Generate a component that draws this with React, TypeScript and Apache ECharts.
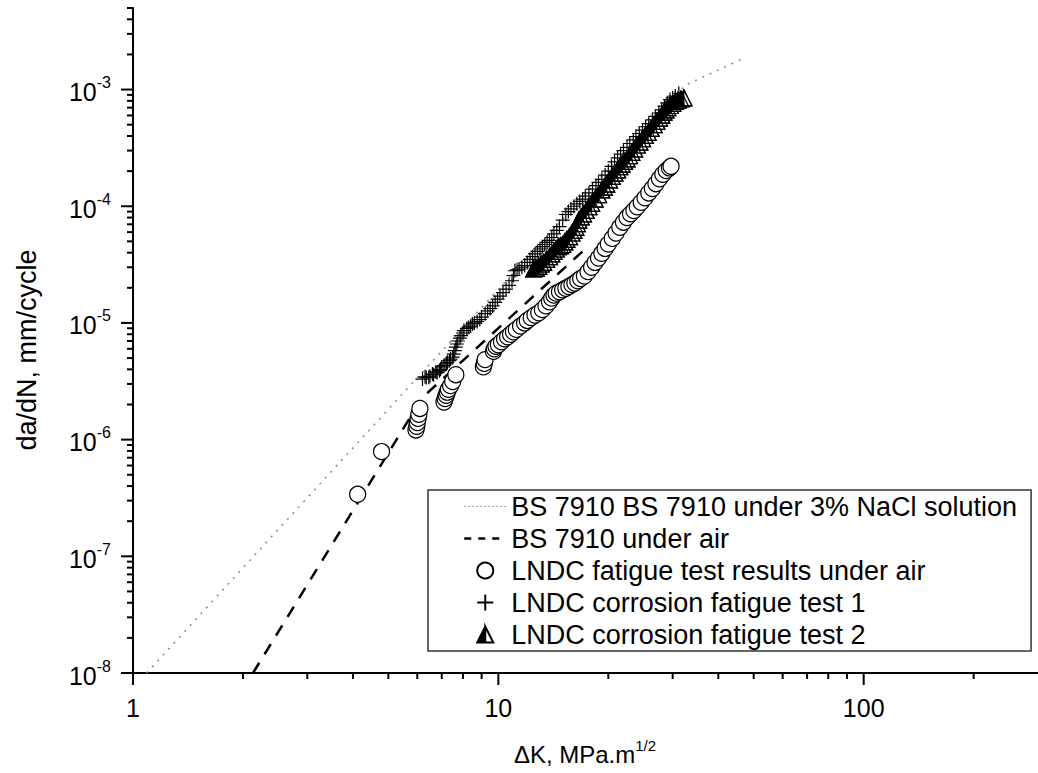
import React, { useEffect, useRef } from 'react';
import * as echarts from 'echarts';

const FONT = '"Liberation Sans", Arial, Helvetica, sans-serif';

// axis extents
const X_MIN = 1;
const X_MAX = 300;
const Y_MIN = 1e-8;
const Y_MAX = 5e-3;

// tick values
const xMajorTicks = [1, 10, 100];
const xMinorTicks = [2, 3, 4, 5, 6, 7, 8, 9, 20, 30, 40, 50, 60, 70, 80, 90, 200];
const yMajorTicks = [1e-8, 1e-7, 1e-6, 1e-5, 1e-4, 1e-3];
const yMinorMultipliers = [2, 3, 4, 5, 6, 7, 8, 9];
const yMinorDecades = [1e-8, 1e-7, 1e-6, 1e-5, 1e-4];
const yMinorTop = [2e-3, 3e-3, 4e-3, 5e-3];

// series names
const NAME_NACL = 'BS 7910 BS 7910 under 3% NaCl solution';
const NAME_AIR = 'BS 7910 under air';
const NAME_RES = 'LNDC fatigue test results under air';
const NAME_C1 = 'LNDC corrosion fatigue test 1';
const NAME_C2 = 'LNDC corrosion fatigue test 2';

// BS 7910 law in 3% NaCl (vertices)
const naclLine = [
  [1.09, 1e-8],
  [32.5, 1.09e-3],
  [46, 1.8e-3],
];

// BS 7910 law in air (vertices)
const airLine = [
  [2.13, 1e-8],
  [6.2, 2.3e-6],
  [17.7, 4.6e-5],
];

// LNDC fatigue results in air (open circles)
const airResults = [
  [4.12, 3.4e-7], [4.79, 7.9e-7],
  [5.95, 1.21e-6], [5.98, 1.3e-6], [6.0, 1.4e-6], [6.03, 1.52e-6], [6.06, 1.65e-6], [6.1, 1.85e-6],
  [7.1, 2.1e-6], [7.15, 2.25e-6], [7.2, 2.4e-6], [7.25, 2.55e-6], [7.3, 2.7e-6], [7.4, 2.9e-6],
  [7.5, 3.15e-6], [7.65, 3.6e-6],
  [9.1, 4.2e-6], [9.15, 4.5e-6], [9.2, 4.85e-6],
  [9.7, 5.7e-6], [9.75, 6.0e-6], [9.85, 6.3e-6], [10.0, 6.5e-6], [10.2, 6.9e-6], [10.4, 7.3e-6],
  [10.6, 7.6e-6], [10.8, 8.0e-6], [11.0, 8.4e-6], [11.2, 8.8e-6], [11.5, 9.4e-6], [11.8, 1.0e-5],
  [12.0, 1.05e-5], [12.3, 1.11e-5], [12.6, 1.17e-5], [12.9, 1.22e-5], [13.2, 1.3e-5], [13.5, 1.4e-5],
  [13.8, 1.52e-5], [14.0, 1.63e-5], [14.2, 1.73e-5], [14.4, 1.8e-5], [14.7, 1.85e-5], [15.0, 1.92e-5],
  [15.3, 1.98e-5], [15.6, 2.05e-5], [15.9, 2.13e-5], [16.2, 2.2e-5], [16.5, 2.3e-5], [16.8, 2.4e-5],
  [17.2, 2.52e-5], [17.6, 2.75e-5], [18.0, 3.0e-5], [18.4, 3.3e-5], [18.8, 3.6e-5], [19.2, 3.95e-5],
  [19.6, 4.35e-5], [20.0, 4.75e-5], [20.5, 5.3e-5], [21.0, 5.9e-5], [21.5, 6.6e-5], [22.0, 7.3e-5],
  [22.5, 8.0e-5], [23.0, 8.6e-5], [23.5, 9.2e-5], [24.0, 9.9e-5], [24.6, 1.08e-4], [25.2, 1.18e-4],
  [25.8, 1.3e-4], [26.4, 1.42e-4], [27.0, 1.56e-4], [27.6, 1.72e-4], [28.2, 1.88e-4], [28.8, 2.02e-4],
  [29.4, 2.13e-4], [29.7, 2.2e-4],
];

// LNDC corrosion fatigue test 1 (plus marks)
const corrosion1 = [
  [6.2, 3.3e-6], [6.3, 3.45e-6], [6.35, 3.4e-6], [6.45, 3.42e-6], [6.5, 3.5e-6], [6.6, 3.65e-6],
  [6.65, 3.6e-6], [6.75, 3.8e-6], [6.8, 3.75e-6], [6.9, 3.9e-6], [6.95, 4.0e-6], [7.0, 4.2e-6],
  [7.1, 4.3e-6], [7.2, 4.45e-6], [7.25, 4.6e-6], [7.35, 4.75e-6], [7.4, 4.9e-6], [7.5, 5.1e-6],
  [7.55, 5.4e-6], [7.6, 5.8e-6], [7.65, 6.2e-6], [7.7, 6.6e-6], [7.75, 7.0e-6], [7.85, 7.4e-6],
  [7.9, 7.8e-6], [8.0, 8.2e-6], [8.05, 8.6e-6], [8.2, 9.0e-6], [8.3, 9.2e-6], [8.4, 9.4e-6],
  [8.5, 9.8e-6], [8.6, 1.0e-5], [8.75, 1.03e-5], [8.9, 1.07e-5], [9.0, 1.12e-5], [9.2, 1.2e-5],
  [9.35, 1.27e-5], [9.5, 1.33e-5], [9.65, 1.4e-5], [9.8, 1.5e-5], [9.95, 1.6e-5], [10.1, 1.7e-5],
  [10.3, 1.82e-5], [10.5, 1.95e-5], [10.7, 2.1e-5], [10.9, 2.3e-5], [11.0, 2.55e-5], [11.1, 2.8e-5],
  [11.25, 2.85e-5], [11.4, 2.9e-5], [11.6, 3.0e-5], [11.8, 3.1e-5], [12.0, 3.3e-5], [12.2, 3.5e-5],
  [12.4, 3.7e-5], [12.6, 3.9e-5], [12.8, 4.1e-5], [13.0, 4.3e-5], [13.2, 4.5e-5], [13.4, 4.7e-5],
  [13.6, 4.9e-5], [13.8, 5.1e-5], [14.0, 5.4e-5], [14.2, 5.8e-5], [14.45, 6.2e-5], [14.7, 6.7e-5],
  [15.0, 7.6e-5], [15.3, 8.5e-5], [15.55, 9.0e-5], [15.8, 9.5e-5], [16.1, 1.0e-4], [16.4, 1.05e-4],
  [16.7, 1.1e-4], [17.0, 1.15e-4], [17.3, 1.22e-4], [17.7, 1.3e-4], [18.1, 1.4e-4], [18.5, 1.5e-4],
  [18.8, 1.6e-4], [19.2, 1.7e-4], [19.6, 1.85e-4], [20.0, 2.0e-4], [20.4, 2.2e-4], [20.8, 2.4e-4],
  [21.2, 2.6e-4], [21.6, 2.8e-4], [22.0, 3.0e-4], [22.5, 3.2e-4], [22.9, 3.45e-4], [23.4, 3.7e-4],
  [23.8, 3.95e-4], [24.3, 4.2e-4], [24.8, 4.5e-4], [25.3, 4.8e-4], [25.8, 5.1e-4], [26.4, 5.5e-4],
  [26.9, 5.9e-4], [27.5, 6.3e-4], [28.0, 6.7e-4], [28.5, 7.2e-4], [29.0, 7.7e-4], [29.5, 8.2e-4],
  [30.0, 8.5e-4], [30.5, 8.8e-4], [31.2, 9.3e-4],
];

// LNDC corrosion fatigue test 2 (half-filled triangles)
const corrosion2 = [
  [12.5, 2.9e-5], [12.7, 2.95e-5], [12.9, 3.05e-5], [13.1, 3.2e-5], [13.3, 3.3e-5], [13.55, 3.5e-5],
  [13.8, 3.7e-5], [14.0, 3.9e-5], [14.2, 4.1e-5], [14.4, 4.3e-5], [14.6, 4.5e-5], [14.8, 4.6e-5],
  [15.0, 4.7e-5], [15.2, 4.95e-5], [15.4, 5.2e-5], [15.65, 5.5e-5], [15.9, 5.9e-5], [16.1, 6.2e-5],
  [16.3, 6.6e-5], [16.45, 7.1e-5], [16.6, 7.6e-5], [16.85, 8.1e-5], [17.1, 8.6e-5], [17.4, 9.2e-5],
  [17.7, 9.9e-5], [18.0, 1.06e-4], [18.4, 1.15e-4], [18.8, 1.26e-4], [19.2, 1.38e-4], [19.5, 1.46e-4],
  [19.8, 1.55e-4], [20.15, 1.68e-4], [20.5, 1.8e-4], [20.85, 1.92e-4], [21.2, 2.05e-4], [21.5, 2.18e-4],
  [21.8, 2.3e-4], [22.15, 2.42e-4], [22.5, 2.55e-4], [22.85, 2.72e-4], [23.2, 2.9e-4], [23.6, 3.1e-4],
  [24.0, 3.35e-4], [24.4, 3.55e-4], [24.8, 3.8e-4], [25.25, 4.05e-4], [25.7, 4.3e-4], [26.2, 4.65e-4],
  [26.7, 5.0e-4], [27.15, 5.35e-4], [27.6, 5.7e-4], [28.0, 6.05e-4], [28.4, 6.4e-4], [28.75, 6.7e-4],
  [29.1, 7.0e-4], [29.55, 7.3e-4], [30.0, 7.6e-4], [30.5, 7.9e-4], [31.0, 8.1e-4], [31.6, 8.3e-4],
  [32.2, 8.5e-4],
];

const PLUS_PATH = 'path://M10 0 L10 20 M0 10 L20 10';
// full triangle (clockwise) + right half (counter-clockwise) => left half filled
const HALF_TRI_PATH = 'path://M10 0 L20 20 L0 20 Z M10 0 L10 20 L20 20 Z';

function isPow10(v: number) {
  const l = Math.log10(v);
  return Math.abs(l - Math.round(l)) < 1e-6;
}

export default function App() {
  const ref = useRef<HTMLDivElement>(null);

  useEffect(() => {
    if (!ref.current) return;
    const chart = echarts.init(ref.current, null, { renderer: 'svg' });

    const yMinorTicks: number[] = [];
    yMinorDecades.forEach((d) => yMinorMultipliers.forEach((m) => yMinorTicks.push(m * d)));
    yMinorTop.forEach((v) => yMinorTicks.push(v));

    const xTickSeries = (vals: number[], len: number) => ({
      type: 'custom',
      silent: true,
      clip: false,
      z: 10,
      data: vals.map((v) => [v, Y_MIN]),
      renderItem: (_p: any, api: any) => {
        const p = api.coord([api.value(0), Y_MIN]);
        return {
          type: 'line',
          shape: { x1: p[0], y1: p[1], x2: p[0], y2: p[1] + len },
          style: { stroke: '#000', lineWidth: 2 },
        };
      },
    });
    const yTickSeries = (vals: number[], len: number) => ({
      type: 'custom',
      silent: true,
      clip: false,
      z: 10,
      data: vals.map((v) => [X_MIN, v]),
      renderItem: (_p: any, api: any) => {
        const p = api.coord([X_MIN, api.value(1)]);
        return {
          type: 'line',
          shape: { x1: p[0], y1: p[1], x2: p[0] - len, y2: p[1] },
          style: { stroke: '#000', lineWidth: 2 },
        };
      },
    });

    const option: any = {
      animation: false,
      backgroundColor: '#fff',
      textStyle: { fontFamily: FONT },
      grid: { left: 133, top: 8, right: 0, bottom: 100, containLabel: false },
      xAxis: {
        type: 'log',
        logBase: 10,
        min: X_MIN,
        max: X_MAX,
        axisLine: { show: true, onZero: false, lineStyle: { color: '#000', width: 2 } },
        axisTick: { show: false },
        minorTick: { show: false },
        splitLine: { show: false },
        axisLabel: {
          margin: 22,
          fontSize: 25,
          fontFamily: FONT,
          color: '#000',
          showMaxLabel: false,
          formatter: (v: number) => (isPow10(v) ? String(Math.round(v)) : ''),
        },
      },
      yAxis: {
        type: 'log',
        logBase: 10,
        min: Y_MIN,
        max: Y_MAX,
        axisLine: { show: true, onZero: false, lineStyle: { color: '#000', width: 2 } },
        axisTick: { show: false },
        minorTick: { show: false },
        splitLine: { show: false },
        axisLabel: {
          margin: 22,
          color: '#000',
          showMaxLabel: false,
          formatter: (v: number) => {
            if (!isPow10(v)) return '';
            const e = Math.round(Math.log10(v));
            return `{a|10}{b|${e}}`;
          },
          rich: {
            a: { fontSize: 25, fontFamily: FONT, color: '#000', lineHeight: 30, verticalAlign: 'bottom' },
            b: { fontSize: 16, fontFamily: FONT, color: '#000', lineHeight: 16, verticalAlign: 'top' },
          },
        },
      },
      legend: {
        orient: 'vertical',
        left: 428,
        top: 490,
        padding: [3, 14, 3, 35],
        itemGap: 5,
        itemWidth: 42,
        itemHeight: 16,
        backgroundColor: '#fff',
        borderColor: '#333',
        borderWidth: 1.5,
        borderRadius: 0,
        textStyle: { fontSize: 27, fontFamily: FONT, color: '#000', lineHeight: 27 },
        data: [
          {
            name: NAME_NACL,
            itemStyle: { opacity: 0 },
            lineStyle: { color: '#8a8a8a', width: 1.2, type: [1.5, 2.5] },
          },
          {
            name: NAME_AIR,
            itemStyle: { opacity: 0 },
            lineStyle: { color: '#000', width: 2.5, type: [7, 7] },
          },
          { name: NAME_RES },
          { name: NAME_C1 },
          { name: NAME_C2 },
        ],
      },
      graphic: [
        {
          type: 'text',
          x: 27,
          y: 350,
          rotation: Math.PI / 2,
          style: {
            text: 'da/dN, mm/cycle',
            fontSize: 27,
            fontFamily: FONT,
            fill: '#000',
            align: 'center',
            verticalAlign: 'middle',
            textAlign: 'center',
            textVerticalAlign: 'middle',
          },
        },
        {
          type: 'text',
          x: 585,
          y: 752,
          style: {
            text: '{a|ΔK, MPa.m}{b|1/2}',
            align: 'center',
            verticalAlign: 'middle',
            textAlign: 'center',
            textVerticalAlign: 'middle',
            rich: {
              a: { fontSize: 24, fontFamily: FONT, fill: '#000', color: '#000', lineHeight: 28, verticalAlign: 'bottom' },
              b: { fontSize: 15, fontFamily: FONT, fill: '#000', color: '#000', lineHeight: 15, verticalAlign: 'top' },
            },
          },
        },
      ],
      series: [
        {
          name: NAME_NACL,
          type: 'line',
          data: naclLine,
          symbol: 'none',
          lineStyle: { color: '#8a8a8a', width: 1.5, type: [2, 6] },
          itemStyle: { color: '#8a8a8a' },
          z: 2,
        },
        {
          name: NAME_AIR,
          type: 'line',
          data: airLine,
          symbol: 'none',
          lineStyle: { color: '#000', width: 2.5, type: [12, 10] },
          itemStyle: { color: '#000' },
          z: 2,
        },
        {
          name: NAME_RES,
          type: 'scatter',
          data: airResults,
          symbol: 'circle',
          symbolSize: 16,
          itemStyle: { color: '#fff', borderColor: '#000', borderWidth: 1.2, opacity: 1 },
          z: 3,
        },
        {
          name: NAME_C1,
          type: 'scatter',
          data: corrosion1,
          symbol: PLUS_PATH,
          symbolSize: 14,
          itemStyle: { color: 'none', borderColor: '#000', borderWidth: 1.2, opacity: 1 },
          z: 4,
        },
        {
          // black left halves and outlines (listed first so the legend uses this icon)
          name: NAME_C2,
          type: 'scatter',
          data: corrosion2,
          symbol: HALF_TRI_PATH,
          symbolSize: 16,
          itemStyle: { color: '#000', borderColor: '#000', borderWidth: 1.2, opacity: 1 },
          z: 6,
        },
        {
          // white body of the same triangles, drawn underneath
          name: NAME_C2,
          type: 'scatter',
          data: corrosion2,
          symbol: 'triangle',
          symbolSize: 16,
          itemStyle: { color: '#fff', borderColor: '#000', borderWidth: 1.2, opacity: 1 },
          z: 5,
        },
        xTickSeries(xMajorTicks, 12),
        xTickSeries(xMinorTicks, 6),
        yTickSeries(yMajorTicks, 12),
        yTickSeries(yMinorTicks, 6),
      ],
    };

    chart.setOption(option);
    return () => chart.dispose();
  }, []);

  return (
    <div
      ref={ref}
      style={{ position: 'absolute', left: 0, top: 0, width: 1038, height: 773, background: '#fff' }}
    />
  );
}
